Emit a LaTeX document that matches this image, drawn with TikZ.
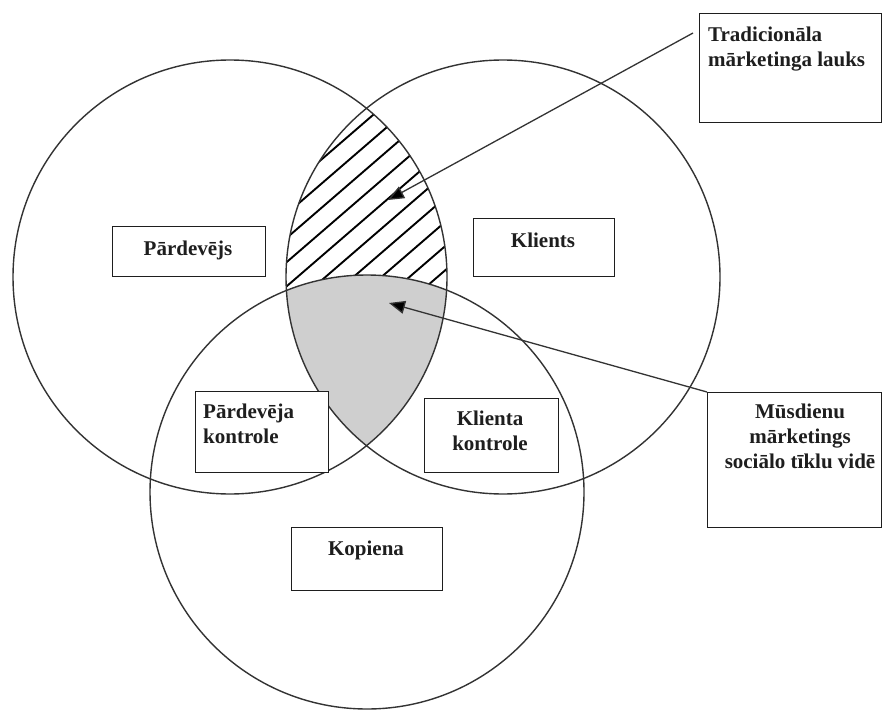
\documentclass[tikz,border=0pt]{standalone}
\usepackage{fontspec}
\setmainfont{Liberation Serif}
\usetikzlibrary{arrows.meta,calc}
\definecolor{ink}{HTML}{1E1E1E}
\definecolor{ringgray}{HTML}{333333}
\definecolor{overlapgray}{HTML}{CFCFCF}
\newcommand{\lbfont}{\fontsize{21}{25}\selectfont\bfseries}

\begin{document}
\begin{tikzpicture}[x=1pt,y=-1pt,
  ring/.style={draw=ringgray, line width=1.4pt},
  hatchline/.style={draw=black, line width=1.9pt},
  boxnode/.style={draw=ink, line width=1.4pt, fill=white, inner sep=0pt, anchor=north west},
  lbl/.style={font=\lbfont, text=ink, inner sep=0pt, anchor=base},
  pointer/.style={draw=ringgray, line width=1.3pt, -{Triangle[length=16pt,width=13pt,fill=black]}}
]
% canvas
\fill[white] (0,0) rectangle (882,711);
\useasboundingbox (0,0) rectangle (882,711);

% circle centres
\coordinate (cL) at (230,277);
\coordinate (cR) at (503,277);
\coordinate (cB) at (367,492);

% hatched overlap of the two upper circles
\begin{scope}
  \clip (cL) circle[radius=217pt];
  \clip (cR) circle[radius=217pt];
  \foreach \k in {-12,...,12}{
    \draw[hatchline] ({287+28*\k-220},476) -- ({287+28*\k+220},96);
  }
  % common part of all three circles
  \fill[overlapgray] (cB) circle[radius=217pt];
\end{scope}

% the three circles
\draw[ring] (cL) circle[radius=217pt];
\draw[ring] (cR) circle[radius=217pt];
\draw[ring] (cB) circle[radius=217pt];

% boxes
\node[boxnode, minimum width=182pt, minimum height=109pt] (tradbox) at (699,13) {};
\node[boxnode, minimum width=174pt, minimum height=135pt] (musbox) at (707,392) {};
\node[boxnode, minimum width=153pt, minimum height=50pt] (pardbox) at (112,226) {};
\node[boxnode, minimum width=141pt, minimum height=58pt] (klbox) at (473,218) {};
\node[boxnode, minimum width=133pt, minimum height=81pt] (pkbox) at (195,391) {};
\node[boxnode, minimum width=134pt, minimum height=74pt] (kkbox) at (424,398) {};
\node[boxnode, minimum width=151pt, minimum height=63pt] (kopbox) at (291,527) {};

% pointers into the overlaps
\coordinate (tradtip) at (388,200);
\coordinate (mustip) at (389,303);
\draw[pointer] ($(tradbox.north west)+(-6,20)$) -- (tradtip);
\draw[pointer] (musbox.north west) -- (mustip);

% labels
\node[lbl, anchor=base west] (tradtxt) at (708,42)
  {\begin{tabular}[t]{@{}l@{}}Tradicionāla\\mārketinga lauks\end{tabular}};
\node[lbl] (mustxt) at (800,418)
  {\begin{tabular}[t]{@{}c@{}}Mūsdienu\\mārketings\\sociālo tīklu vidē\end{tabular}};
\node[lbl] (pardtxt) at (188,255) {Pārdevējs};
\node[lbl] (kltxt) at (543,247) {Klients};
\node[lbl, anchor=base west] (pktxt) at (203,418)
  {\begin{tabular}[t]{@{}l@{}}Pārdevēja\\kontrole\end{tabular}};
\node[lbl] (kktxt) at (490,425)
  {\begin{tabular}[t]{@{}c@{}}Klienta\\kontrole\end{tabular}};
\node[lbl] (koptxt) at (366,555) {Kopiena};
\end{tikzpicture}
\end{document}
